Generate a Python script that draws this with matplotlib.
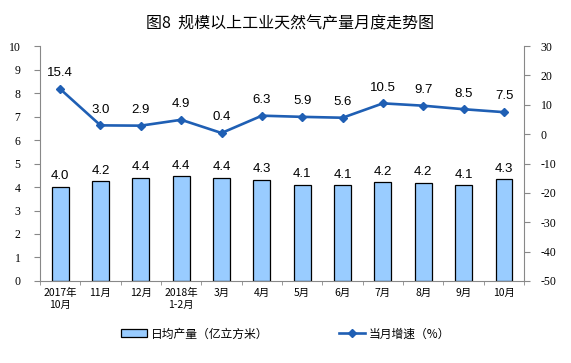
import matplotlib
matplotlib.use("Agg")
import matplotlib.pyplot as plt
import numpy as np

plt.rcParams['font.family'] = ['Noto Sans CJK SC', 'DejaVu Sans']

categories = ["2017年\n10月", "11月", "12月", "2018年\n1-2月", "3月", "4月", "5月", "6月", "7月", "8月", "9月", "10月"]
daily_output = [4.0, 4.24, 4.4, 4.45, 4.38, 4.32, 4.08, 4.07, 4.2, 4.18, 4.07, 4.33]
daily_labels = ["4.0", "4.2", "4.4", "4.4", "4.4", "4.3", "4.1", "4.1", "4.2", "4.2", "4.1", "4.3"]
growth = [15.4, 3.0, 2.9, 4.9, 0.4, 6.3, 5.9, 5.6, 10.5, 9.7, 8.5, 7.5]
growth_labels = ["15.4", "3.0", "2.9", "4.9", "0.4", "6.3", "5.9", "5.6", "10.5", "9.7", "8.5", "7.5"]
left_ticks = list(range(0, 11))
right_ticks = list(range(-50, 31, 10))

fig = plt.figure(figsize=(5.71, 3.63), dpi=100)
ax = fig.add_axes([0.070, 0.226, 0.848, 0.647])
x = np.arange(len(categories))
bars = ax.bar(x, daily_output, width=0.42, color="#99CCFF", edgecolor="black", linewidth=0.9, label="日均产量（亿立方米）", zorder=2)
ax.set_xlim(-0.5, len(categories) - 0.5)
ax.set_ylim(0, 10)
ax.set_yticks(left_ticks)
ax.set_yticklabels([str(t) for t in left_ticks], fontfamily="Liberation Serif", fontsize=8.5)
ax.set_xticks(x)
ax.set_xticklabels(categories, fontsize=7.5, linespacing=1.3)
ax.set_xticks(np.arange(-0.5, len(categories), 1), minor=True)
ax.tick_params(axis='x', which='major', length=0, pad=5)
ax.tick_params(axis='x', which='minor', length=3, color="#888888", direction='out')
ax.tick_params(axis='y', length=4, color="#888888", pad=10)
for s in ["top", "right"]:
    ax.spines[s].set_visible(False)
for s in ["left", "bottom"]:
    ax.spines[s].set_color("#888888")
for xi, v, lab in zip(x, daily_output, daily_labels):
    ax.text(xi, v + 0.2, lab, ha="center", va="bottom", fontsize=9.5, fontfamily="Liberation Sans")

ax2 = ax.twinx()
ax2.set_ylim(-50, 30)
ax2.set_yticks(right_ticks)
ax2.set_yticklabels([str(t) for t in right_ticks], fontfamily="Liberation Serif", fontsize=8.5)
ax2.tick_params(axis='y', length=4, color="#888888", pad=8)
for s in ["top", "left", "bottom"]:
    ax2.spines[s].set_visible(False)
ax2.spines["right"].set_color("#888888")
line, = ax2.plot(x, growth, color="#1F5FB4", linewidth=1.9, marker="D", markersize=4, label="当月增速（%）", zorder=3)
for xi, v, lab in zip(x, growth, growth_labels):
    ax2.text(xi, v + 3.3, lab, ha="center", va="bottom", fontsize=9.5, fontfamily="Liberation Sans")

fig.text(0.508, 0.935, "图8  规模以上工业天然气产量月度走势图", ha="center", va="center", fontsize=11.5, fontweight="medium")
fig.legend([bars, line], ["日均产量（亿立方米）", "当月增速（%）"], loc="center", bbox_to_anchor=(0.5, 0.08),
           ncol=2, frameon=False, fontsize=8.5, handlelength=2.2, columnspacing=6, handletextpad=0.3)
fig.savefig("out.png", dpi=100)
